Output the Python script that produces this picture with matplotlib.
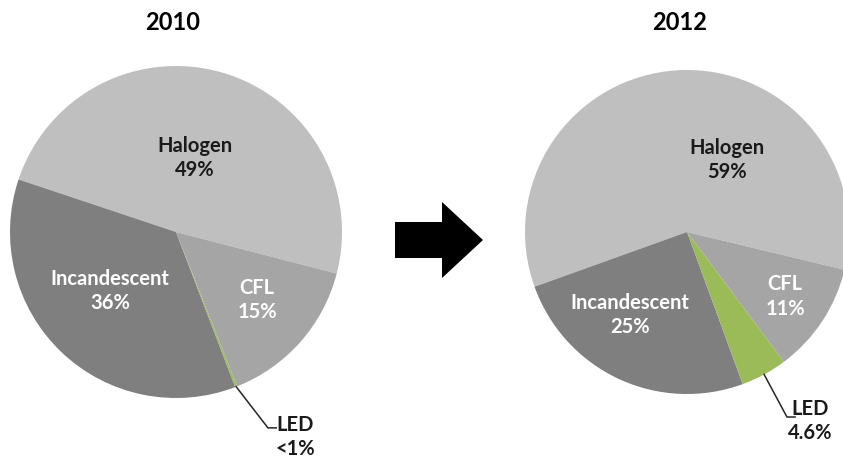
import numpy as np
import matplotlib
matplotlib.use("Agg")
import matplotlib.pyplot as plt
from matplotlib.patches import FancyArrow

# datos (orden antihorario desde el borde derecho)
years = ["2010", "2012"]
categories = ["Halogen", "Incandescent", "LED", "CFL"]
share_2010 = [49, 36, 0.2, 15]
share_2012 = [59, 25, 4.6, 11]
labels_2010 = ["49%", "36%", "<1%", "15%"]
labels_2012 = ["59%", "25%", "4.6%", "11%"]

colors = ["#bfbfbf", "#7f7f7f", "#9bbb59", "#a5a5a5"]
text_colors = ["#1a1a1a", "white", "#1a1a1a", "white"]

plt.rcParams["font.family"] = ["Lato", "DejaVu Sans"]
plt.rcParams["font.weight"] = "bold"

W, H = 843, 462
fig = plt.figure(figsize=(W / 100, H / 100), dpi=100)
FS = 14.5


def pix_axes(cx, cy, r):
    # ejes cuadrados centrados en (cx, cy) en pixeles, y desde arriba
    return fig.add_axes([(cx - r) / W, (H - cy - r) / H, 2 * r / W, 2 * r / H])


def draw_pie(ax, values, pcts, start, pos, led_pos, leader):
    wedges, _ = ax.pie(values, colors=colors, startangle=start,
                       counterclock=True, radius=1,
                       wedgeprops=dict(linewidth=0))
    ax.set_xlim(-1, 1)
    ax.set_ylim(-1, 1)
    ax.set_aspect("equal")
    ax.axis("off")
    for i, name in enumerate(categories):
        if name == "LED":
            w = wedges[i]
            mid = np.deg2rad((w.theta1 + w.theta2) / 2)
            x0, y0 = np.cos(mid), np.sin(mid)
            ax.plot([x0, leader[0], leader[0] + 0.05], [y0, leader[1], leader[1]],
                    color="#262626", lw=1.1, clip_on=False)
            ax.text(led_pos[0], led_pos[1], f"{name}\n{pcts[i]}", ha="center",
                    va="center", fontsize=FS, color=text_colors[i],
                    linespacing=1.3, clip_on=False)
        else:
            ax.text(pos[i][0], pos[i][1], f"{name}\n{pcts[i]}", ha="center",
                    va="center", fontsize=FS, color=text_colors[i],
                    linespacing=1.3)


ax1 = pix_axes(176, 232, 166)
draw_pie(ax1, share_2010, labels_2010, -14.5,
         [(0.114, 0.446), (-0.398, -0.355), None, (0.488, -0.41)],
         (0.717, -1.235), (0.554, -1.18))

ax2 = pix_axes(687, 232, 162)
draw_pie(ax2, share_2012, labels_2012, -13.5,
         [(0.247, 0.444), (-0.352, -0.512), None, (0.605, -0.40)],
         (0.759, -1.167), (0.617, -1.142))

fig.text(173 / W, 1 - 23 / H, years[0], ha="center", va="center",
         fontsize=17, color="black")
fig.text(680 / W, 1 - 23 / H, years[1], ha="center", va="center",
         fontsize=17, color="black")

# flecha central
ov = fig.add_axes([0, 0, 1, 1], zorder=-1)
ov.set_xlim(0, W)
ov.set_ylim(H, 0)
ov.axis("off")
ov.add_patch(FancyArrow(395, 240, 88, 0, width=36, head_width=76,
                        head_length=41, length_includes_head=True,
                        color="black", linewidth=0))

fig.savefig("out.png", dpi=100, facecolor="white")
